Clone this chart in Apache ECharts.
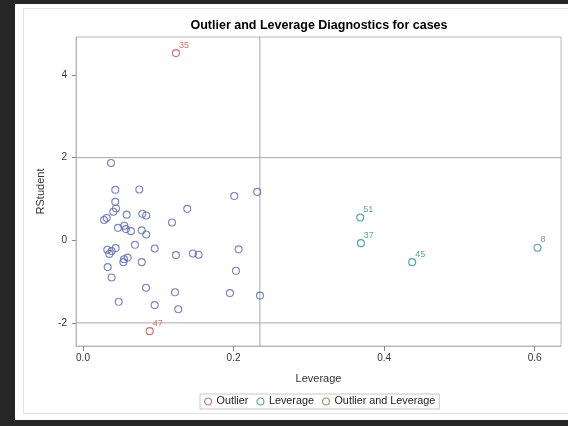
<!DOCTYPE html>
<html>
<head>
<meta charset="utf-8">
<script src="https://cdn.jsdelivr.net/npm/echarts@6/dist/echarts.min.js"></script>
<style>
  html, body { margin: 0; padding: 0; background: #262626; }
  #panel { position: absolute; left: 15px; top: 4px; width: 553px; height: 416px; background: #ffffff; }
  #inner { position: absolute; left: 23px; top: 8px; width: 545px; height: 406px; border-left: 1px solid #e2e2e2; border-top: 1px solid #e2e2e2; border-bottom: 1px solid #e2e2e2; box-sizing: border-box; }
  #chart { position: absolute; left: 0; top: 0; width: 568px; height: 426px; }
</style>
</head>
<body>
<div id="panel"></div>
<div id="inner"></div>
<div id="chart"></div>
<script>
// Observations that are neither outliers nor high-leverage
const obsLeverage = [
  0.0372, 0.0429, 0.0748, 0.0429, 0.0438, 0.0403, 0.0580, 0.0788, 0.0840, 0.0315,
  0.0280, 0.0465, 0.0549, 0.0571, 0.0637, 0.0780, 0.0840, 0.2009, 0.2315, 0.1385,
  0.1182, 0.0952, 0.1235, 0.1460, 0.1536, 0.2067, 0.2032, 0.1222, 0.1952, 0.2351,
  0.0952, 0.1266, 0.0323, 0.0380, 0.0434, 0.0350, 0.0690, 0.0545, 0.0536, 0.0593,
  0.0780, 0.0328, 0.0380, 0.0837, 0.0474
];
const obsRStudent = [
  1.87, 1.22, 1.23, 0.93, 0.77, 0.69, 0.62, 0.64, 0.60, 0.54,
  0.49, 0.30, 0.35, 0.27, 0.22, 0.24, 0.14, 1.07, 1.17, 0.76,
  0.43, -0.20, -0.36, -0.32, -0.35, -0.22, -0.74, -1.26, -1.28, -1.34,
  -1.57, -1.67, -0.23, -0.26, -0.19, -0.33, -0.11, -0.46, -0.53, -0.42,
  -0.53, -0.65, -0.90, -1.15, -1.49
];

// Flagged observations
const outlierIds = ['35', '47'];
const outlierLeverage = [0.1235, 0.0886];
const outlierRStudent = [4.53, -2.20];

const leverageIds = ['51', '37', '45', '8'];
const leverageLeverage = [0.3683, 0.3692, 0.4373, 0.6038];
const leverageRStudent = [0.55, -0.07, -0.53, -0.18];

const bothIds = [];
const bothLeverage = [];
const bothRStudent = [];

// Cutoff lines
const rstudentCutoffs = [-2, 2];
const leverageCutoff = 0.235;

// Axis ranges and tick labels
const xRange = [-0.0093, 0.635];
const yRange = [-2.56, 4.92];
const xTicks = [0, 0.2, 0.4, 0.6];
const yTicks = [-2, 0, 2, 4];

const FONT = '"Liberation Sans", Arial, sans-serif';
const COLORS = {
  obs: '#5865b2',
  outlier: '#c0504a',
  leverage: '#2f8f88',
  both: '#8f6e36',
  ref: '#a8a8a8'
};

function pairs(xs, ys, ids) {
  return xs.map((x, i) => ids ? { value: [x, ys[i]], name: ids[i] } : [x, ys[i]]);
}

function ring(color) {
  return { color: 'rgba(255,255,255,0)', borderColor: color, borderWidth: 1.1 };
}

const flagLabel = (color) => ({
  show: true,
  formatter: (p) => p.name,
  position: [7, 0.5],
  align: 'left',
  verticalAlign: 'bottom',
  fontSize: 9,
  fontFamily: FONT,
  color: color
});

function refLine(points) {
  return {
    type: 'line',
    data: points,
    symbol: 'none',
    silent: true,
    lineStyle: { color: COLORS.ref, width: 1 },
    z: 1
  };
}

const refSeries = rstudentCutoffs
  .map((v) => refLine([[xRange[0], v], [xRange[1], v]]))
  .concat([refLine([[leverageCutoff, yRange[0]], [leverageCutoff, yRange[1]]])]);

const chart = echarts.init(document.getElementById('chart'), null, { renderer: 'canvas' });

chart.setOption({
  backgroundColor: 'transparent',
  animation: false,
  title: {
    text: 'Outlier and Leverage Diagnostics for cases',
    left: 319,
    top: 19,
    padding: 0,
    textAlign: 'center',
    textStyle: { fontSize: 12.5, fontWeight: 'bold', color: '#000', fontFamily: FONT }
  },
  legend: {
    data: [
      { name: 'Outlier', itemStyle: ring(COLORS.outlier) },
      { name: 'Leverage', itemStyle: ring(COLORS.leverage) },
      { name: 'Outlier and Leverage', itemStyle: ring(COLORS.both) }
    ],
    left: 200,
    top: 394,
    orient: 'horizontal',
    icon: 'circle',
    itemWidth: 7,
    itemHeight: 7,
    itemGap: 8,
    padding: [2, 4, 2, 4],
    borderColor: '#c8c8c8',
    borderWidth: 1,
    textStyle: { fontSize: 10.8, color: '#222', fontFamily: FONT }
  },
  grid: {
    left: 76, top: 37, right: 7, bottom: 80,
    show: true,
    borderColor: '#b8b8b8',
    borderWidth: 1,
    backgroundColor: 'transparent'
  },
  xAxis: {
    type: 'value',
    min: xRange[0],
    max: xRange[1],
    name: 'Leverage',
    nameLocation: 'middle',
    nameGap: 27,
    nameTextStyle: { fontSize: 11, color: '#333', fontFamily: FONT },
    axisLine: { show: true, onZero: false, lineStyle: { color: '#b8b8b8' } },
    axisTick: { show: true, length: 5, customValues: xTicks, lineStyle: { color: '#888' } },
    axisLabel: {
      customValues: xTicks,
      formatter: (v) => v.toFixed(1),
      margin: 7,
      fontSize: 10,
      color: '#333',
      fontFamily: FONT
    },
    splitLine: { show: false }
  },
  yAxis: {
    type: 'value',
    min: yRange[0],
    max: yRange[1],
    name: 'RStudent',
    nameLocation: 'middle',
    nameRotate: 90,
    nameGap: 30,
    nameTextStyle: { fontSize: 11, color: '#333', fontFamily: FONT },
    axisLine: { show: true, onZero: false, lineStyle: { color: '#b8b8b8' } },
    axisTick: { show: true, length: 4, customValues: yTicks, lineStyle: { color: '#888' } },
    axisLabel: {
      customValues: yTicks,
      formatter: (v) => String(v),
      margin: 9,
      fontSize: 10,
      color: '#333',
      fontFamily: FONT
    },
    splitLine: { show: false }
  },
  series: refSeries.concat([
    {
      name: 'Observations',
      type: 'scatter',
      symbol: 'circle',
      symbolSize: 7,
      itemStyle: ring(COLORS.obs),
      data: pairs(obsLeverage, obsRStudent),
      z: 3
    },
    {
      name: 'Outlier',
      type: 'scatter',
      symbol: 'circle',
      symbolSize: 7,
      itemStyle: ring(COLORS.outlier),
      label: flagLabel(COLORS.outlier),
      data: pairs(outlierLeverage, outlierRStudent, outlierIds),
      z: 4
    },
    {
      name: 'Leverage',
      type: 'scatter',
      symbol: 'circle',
      symbolSize: 7,
      itemStyle: ring(COLORS.leverage),
      label: flagLabel(COLORS.leverage),
      data: pairs(leverageLeverage, leverageRStudent, leverageIds),
      z: 4
    },
    {
      name: 'Outlier and Leverage',
      type: 'scatter',
      symbol: 'circle',
      symbolSize: 7,
      itemStyle: ring(COLORS.both),
      label: flagLabel(COLORS.both),
      data: pairs(bothLeverage, bothRStudent, bothIds),
      z: 4
    }
  ])
});
</script>
</body>
</html>
